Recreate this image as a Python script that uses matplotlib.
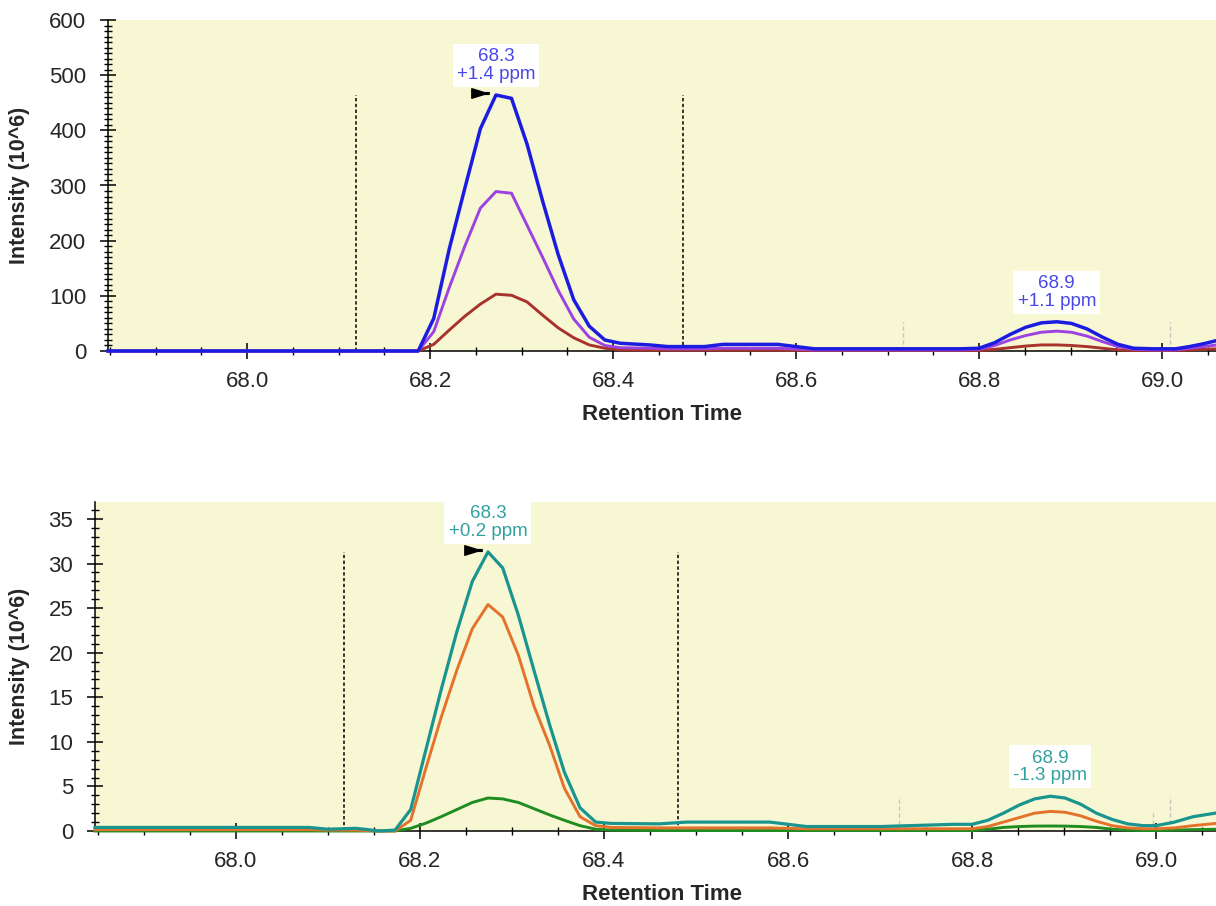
import matplotlib
matplotlib.use("Agg")
import matplotlib.pyplot as plt
from matplotlib.path import Path
from matplotlib.ticker import MultipleLocator, FormatStrFormatter
from matplotlib.transforms import offset_copy

plt.rcParams['font.family'] = ['Liberation Sans', 'DejaVu Sans']

# ---------------- data: top panel ----------------
rt_top = [67.848, 68.10, 68.15,
          68.187, 68.204, 68.221, 68.238, 68.255, 68.272, 68.289, 68.306, 68.323, 68.340, 68.357, 68.374, 68.391, 68.408,
          68.44, 68.46, 68.50, 68.52, 68.58, 68.62, 68.70, 68.78,
          68.80, 68.817, 68.834, 68.851, 68.868, 68.885, 68.901, 68.918, 68.935, 68.952, 68.969,
          68.99, 69.015, 69.03, 69.045, 69.06, 69.075]
top_blue = [0, 0, 0,
            0, 59, 185, 295, 403, 464, 458, 375, 272, 175, 93, 45, 20, 14,
            11, 8, 8, 12, 12, 4, 4, 4,
            5, 15, 30, 43, 51, 53, 50, 40, 25, 12, 5,
            4, 4, 8, 13, 19, 22]
top_purple = [0, 0, 0,
              0, 35, 115, 190, 259, 289, 286, 228, 170, 110, 58, 25, 10, 6,
              5, 4, 4, 5, 5, 2, 2, 2,
              3, 10, 20, 28, 34, 36, 34, 27, 17, 8, 3,
              2, 2, 5, 8, 11, 13]
top_brown = [0, 0, 0,
             0, 12, 38, 63, 85, 103, 101, 89, 65, 42, 24, 11, 5, 2,
             1.5, 1.5, 1.5, 1.5, 1.5, 1, 1, 1,
             1, 3, 6, 9, 11, 11, 10, 8, 5, 2, 1,
             1, 1, 2, 3, 4, 5]
top_labels = ["68.3\n+1.4 ppm", "68.9\n+1.1 ppm"]
top_label_rt = [68.272, 68.885]
top_label_val = [464, 53]
top_bounds = [68.119, 68.4765]
top_bound_height = 464
top_gray = [68.717, 69.009]
top_gray_height = [52, 52]

# ---------------- data: bottom panel ----------------
rt_bot = [67.847, 68.08, 68.10, 68.13, 68.14, 68.155, 68.173,
          68.19, 68.207, 68.223, 68.24, 68.257, 68.274, 68.29, 68.307, 68.324, 68.341, 68.357, 68.374, 68.391, 68.408,
          68.46, 68.49, 68.58, 68.62, 68.70, 68.78,
          68.80, 68.817, 68.834, 68.851, 68.868, 68.885, 68.901, 68.918, 68.935, 68.952, 68.969, 68.986,
          69.0, 69.02, 69.04, 69.07]
bot_teal = [0.4, 0.4, 0.2, 0.3, 0.2, 0.0, 0.1,
            2.4, 9.3, 15.8, 22.3, 28.0, 31.3, 29.5, 24.2, 18.0, 11.9, 6.6, 2.6, 1.0, 0.85,
            0.8, 1.0, 1.0, 0.5, 0.5, 0.75,
            0.75, 1.2, 2.0, 2.9, 3.6, 3.9, 3.7, 3.0, 2.0, 1.3, 0.8, 0.6,
            0.6, 1.0, 1.6, 2.1]
bot_orange = [0.15, 0.15, 0.1, 0.1, 0.05, 0.0, 0.0,
              1.2, 7.2, 12.7, 18.0, 22.7, 25.4, 24.0, 19.7, 14.0, 9.6, 4.8, 1.6, 0.6, 0.4,
              0.35, 0.35, 0.35, 0.25, 0.25, 0.25,
              0.25, 0.5, 1.0, 1.5, 2.0, 2.2, 2.1, 1.7, 1.1, 0.6, 0.35, 0.25,
              0.25, 0.35, 0.6, 0.9]
bot_green = [0, 0, 0, 0, 0, 0, 0,
             0.3, 0.9, 1.6, 2.4, 3.2, 3.7, 3.6, 3.2, 2.5, 1.8, 1.2, 0.6, 0.2, 0.1,
             0.05, 0.05, 0.05, 0.05, 0.05, 0.05,
             0.05, 0.2, 0.4, 0.5, 0.55, 0.56, 0.55, 0.5, 0.4, 0.2, 0.1, 0.05,
             0.05, 0.1, 0.15, 0.2]
bot_labels = ["68.3\n+0.2 ppm", "68.9\n-1.3 ppm"]
bot_label_rt = [68.274, 68.885]
bot_label_val = [31.3, 3.9]
bot_bounds = [68.118, 68.480]
bot_bound_height = 31.3
bot_gray = [68.721, 68.997, 69.015]
bot_gray_height = [3.9, 2.0, 3.9]

# ---------------- styling ----------------
W, H = 1216, 906
fig = plt.figure(figsize=(W / 100, H / 100), dpi=100)
fig.patch.set_facecolor('white')
BG = '#f7f7d4'
TXT = '#262626'

ax1 = fig.add_axes([108 / W, 1 - 351 / H, 1 - 108 / W, (351 - 20) / H])
ax2 = fig.add_axes([95 / W, 1 - 831 / H, 1 - 95 / W, (831 - 502) / H])

# peak marker (flag-like triangle)
flag = Path([(-1, 0.55), (0.45, 0.1), (1.0, 0.1), (1.0, -0.1), (0.45, -0.1), (-1, -0.55), (-1, 0.55)],
            [Path.MOVETO] + [Path.LINETO] * 5 + [Path.CLOSEPOLY])


def style(ax, xlim, ylim, ymaj, ymin, xlab_x, ylab_x, axh):
    ax.set_facecolor(BG)
    ax.set_xlim(*xlim)
    ax.set_ylim(*ylim)
    for s in ('top', 'right'):
        ax.spines[s].set_visible(False)
    for s in ('left', 'bottom'):
        ax.spines[s].set_linewidth(1.1)
        ax.spines[s].set_color('black')
    ax.xaxis.set_major_locator(MultipleLocator(0.2))
    ax.xaxis.set_minor_locator(MultipleLocator(0.05))
    ax.xaxis.set_major_formatter(FormatStrFormatter('%.1f'))
    ax.yaxis.set_major_locator(MultipleLocator(ymaj))
    ax.yaxis.set_minor_locator(MultipleLocator(ymin))
    ax.tick_params(axis='both', which='major', direction='inout', length=11.5, width=1.1,
                   color='black', labelsize=16, labelcolor=TXT)
    ax.tick_params(axis='both', which='minor', direction='inout', length=6, width=1.0, color='black')
    ax.tick_params(axis='x', which='major', pad=9)
    ax.tick_params(axis='y', which='major', pad=10)
    ax.set_xlabel('Retention Time', fontsize=16, fontweight='bold', color=TXT, va='center')
    ax.set_ylabel('Intensity (10^6)', fontsize=15.5, fontweight='bold', color=TXT, va='center')
    ax.xaxis.set_label_coords(xlab_x, -64 / axh)
    ax.yaxis.set_label_coords(ylab_x, 0.5)


style(ax1, (67.848, 69.059), (0, 600), 100, 10, 0.5, (20 - 108) / (W - 108), 331)
style(ax2, (67.847, 69.065), (0, 36.9), 5, 1, 0.506, (20 - 95) / (W - 95), 329)

# ---- top traces ----
for ys, c, lw in [(top_brown, '#a8332b', 2.1), (top_purple, '#9c42e2', 2.1), (top_blue, '#1c1ce0', 2.5)]:
    ax1.plot(rt_top, ys, color=c, lw=lw, clip_on=False, zorder=3, solid_joinstyle='round')

for x in top_bounds:
    ax1.vlines(x, 0, top_bound_height, colors='black', linestyles=(0, (2.2, 1.6)), lw=1.1, zorder=2)
for x, h in zip(top_gray, top_gray_height):
    ax1.vlines(x, 0, h, colors='#c4c4c4', linestyles=(0, (3, 2)), lw=1.0, zorder=2)

for txt, x, y in zip(top_labels, top_label_rt, top_label_val):
    ax1.annotate(txt, xy=(x, y), xytext=(0, 12), textcoords='offset pixels', ha='center', va='bottom',
                 fontsize=13.5, color='#4848e6', linespacing=1.05,
                 bbox=dict(boxstyle='square,pad=0.22', fc='white', ec='none'), zorder=5)

tr1 = offset_copy(ax1.transData, fig=fig, x=-16, y=2, units='dots')
ax1.plot([top_label_rt[0]], [top_label_val[0]], marker=flag, markersize=12.5, color='black',
         transform=tr1, clip_on=False, zorder=6, linestyle='none')

# ---- bottom traces ----
for ys, c, lw in [(bot_green, '#1f8c1f', 2.1), (bot_orange, '#e4722c', 2.1), (bot_teal, '#1a948e', 2.3)]:
    ax2.plot(rt_bot, ys, color=c, lw=lw, clip_on=False, zorder=3, solid_joinstyle='round')

for x in bot_bounds:
    ax2.vlines(x, 0, bot_bound_height, colors='black', linestyles=(0, (2.2, 1.6)), lw=1.1, zorder=2)
for x, h in zip(bot_gray, bot_gray_height):
    ax2.vlines(x, 0, h, colors='#c4c4c4', linestyles=(0, (3, 2)), lw=1.0, zorder=2)

for txt, x, y in zip(bot_labels, bot_label_rt, bot_label_val):
    ax2.annotate(txt, xy=(x, y), xytext=(0, 12), textcoords='offset pixels', ha='center', va='bottom',
                 fontsize=13.5, color='#33a0a0', linespacing=1.05,
                 bbox=dict(boxstyle='square,pad=0.22', fc='white', ec='none'), zorder=5)

tr2 = offset_copy(ax2.transData, fig=fig, x=-15, y=2, units='dots')
ax2.plot([bot_label_rt[0]], [bot_label_val[0]], marker=flag, markersize=12.5, color='black',
         transform=tr2, clip_on=False, zorder=6, linestyle='none')

fig.savefig('out.png', dpi=100, facecolor='white')
